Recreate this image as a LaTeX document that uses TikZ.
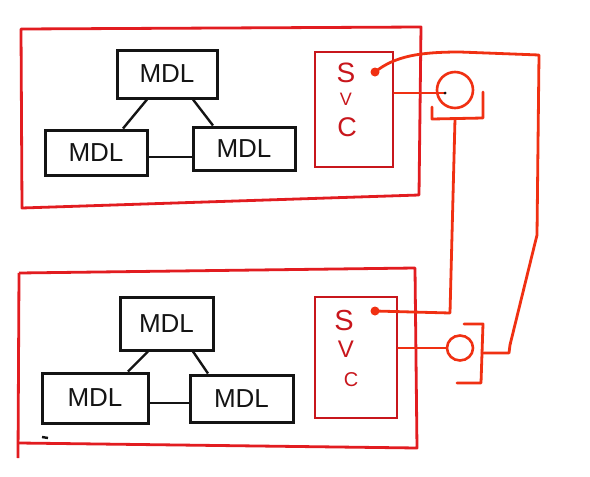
\documentclass[tikz,border=0pt]{standalone}
\usepackage{fontspec}
\setmainfont{Liberation Sans}
\usetikzlibrary{calc,shapes.geometric}
\definecolor{boxred}{RGB}{226,28,32}
\definecolor{svcred}{RGB}{200,22,28}
\definecolor{wire}{RGB}{240,48,18}
\definecolor{ink}{RGB}{20,20,20}
\begin{document}
\begin{tikzpicture}[x=1pt,y=-1pt,
  mdlbox/.style={draw=ink,line width=3pt,inner sep=0pt,text=ink,
    font=\fontsize{26}{26}\selectfont},
  svcbox/.style={draw=svcred,line width=2.8pt,inner sep=0pt},
  container/.style={draw=boxred,line width=2.8pt,line join=round},
  wireline/.style={draw=wire,line width=2.8pt,line join=round,line cap=round},
  link/.style={draw=ink,line width=2.4pt},
  letter/.style={text=svcred,inner sep=0pt},
  wiredot/.style={circle,fill=wire,inner sep=0pt,minimum size=9pt},
  smalldot/.style={circle,fill=ink,inner sep=0pt,minimum size=3pt}]
\useasboundingbox (0,0) rectangle (590,477);
\fill[white] (0,0) rectangle (590,477);

% ---------- top system ----------
\draw[container] (21,29) -- (421,27) -- (419,195) -- (22,208) -- cycle;
\node[mdlbox,minimum width=100pt,minimum height=48pt] (mt) at (167,74) {MDL};
\node[mdlbox,minimum width=102pt,minimum height=45pt] (ml) at (96,152.5) {MDL};
\node[mdlbox,minimum width=102pt,minimum height=43pt] (mr) at (244,148.5) {MDL};
\draw[link] ([xshift=-20pt]mt.south) -- ([xshift=27pt]ml.north);
\draw[link] ([xshift=26pt]mt.south) -- ([xshift=-31pt]mr.north);
\draw[link] ([yshift=-4.5pt]ml.east) -- ([yshift=-4.5pt]ml.east -| mr.west);

\node[svcbox,minimum width=78pt,minimum height=115pt] (svc1) at (354,109.5) {};
\node[letter,font=\fontsize{28}{28}\selectfont] at (346,73) {S};
\node[letter,font=\fontsize{18}{18}\selectfont] at (346,99) {V};
\node[letter,font=\fontsize{27}{27}\selectfont] at (347,127) {C};

\node[wiredot] (d1) at (375,72) {};
\node[circle,draw=wire,line width=2.6pt,minimum size=36pt,inner sep=0pt] (s1) at (455,90) {};
\coordinate (s1in) at (445,93);
\draw[wireline] (svc1.east |- s1in) -- (s1in);
\node[smalldot] at (s1in) {};
\draw[wireline] (432,107) -- (432,119) -- (483,118) -- (483,92);
\coordinate (b1m) at (455,119);

% ---------- bottom system ----------
\draw[container] (19,273) -- (415,268) -- (417,448) -- (19,443);
\draw[container] (19,273) -- (18,458);
\node[mdlbox,minimum width=93pt,minimum height=53pt] (mt2) at (166.5,323.5) {MDL};
\node[mdlbox,minimum width=106pt,minimum height=50pt] (ml2) at (95,398) {MDL};
\node[mdlbox,minimum width=103pt,minimum height=47pt] (mr2) at (241.5,398.5) {MDL};
\draw[link] ([xshift=-18.5pt]mt2.south) -- ([xshift=33pt]ml2.north);
\draw[link] ([xshift=26.5pt]mt2.south) -- ([xshift=-33.5pt]mr2.north);
\draw[link] ([yshift=-5pt]ml2.east) -- ([yshift=-5pt]ml2.east -| mr2.west);
\draw[ink,line width=2.4pt] (42,437) -- (48,438);

\node[svcbox,minimum width=82pt,minimum height=121pt] (svc2) at (356,357.5) {};
\node[letter,font=\fontsize{29}{29}\selectfont] at (344,321) {S};
\node[letter,font=\fontsize{24}{24}\selectfont] at (346,349) {V};
\node[letter,font=\fontsize{20}{20}\selectfont] at (351,380) {C};

\node[wiredot] (d2) at (375,311) {};
\node[ellipse,draw=wire,line width=2.6pt,minimum width=26pt,minimum height=25pt,inner sep=0pt] (s2) at (460,348) {};
\draw[wireline] (svc2.east |- s2.west) -- (s2.west);
\draw[wireline] (464,324) -- (483,324) -- (481,383) -- (457,383);
\coordinate (b2r) at (482,353);

% ---------- wires between systems ----------
\draw[wireline] (d1.center) .. controls (395,56) and (420,52) .. (460,52)
  -- (539,55) -- (537,235) -- (510,345) -- (509,353) -- (b2r);
\draw[wireline] (b1m) -- (450,313) -- (d2.center);
\end{tikzpicture}
\end{document}
